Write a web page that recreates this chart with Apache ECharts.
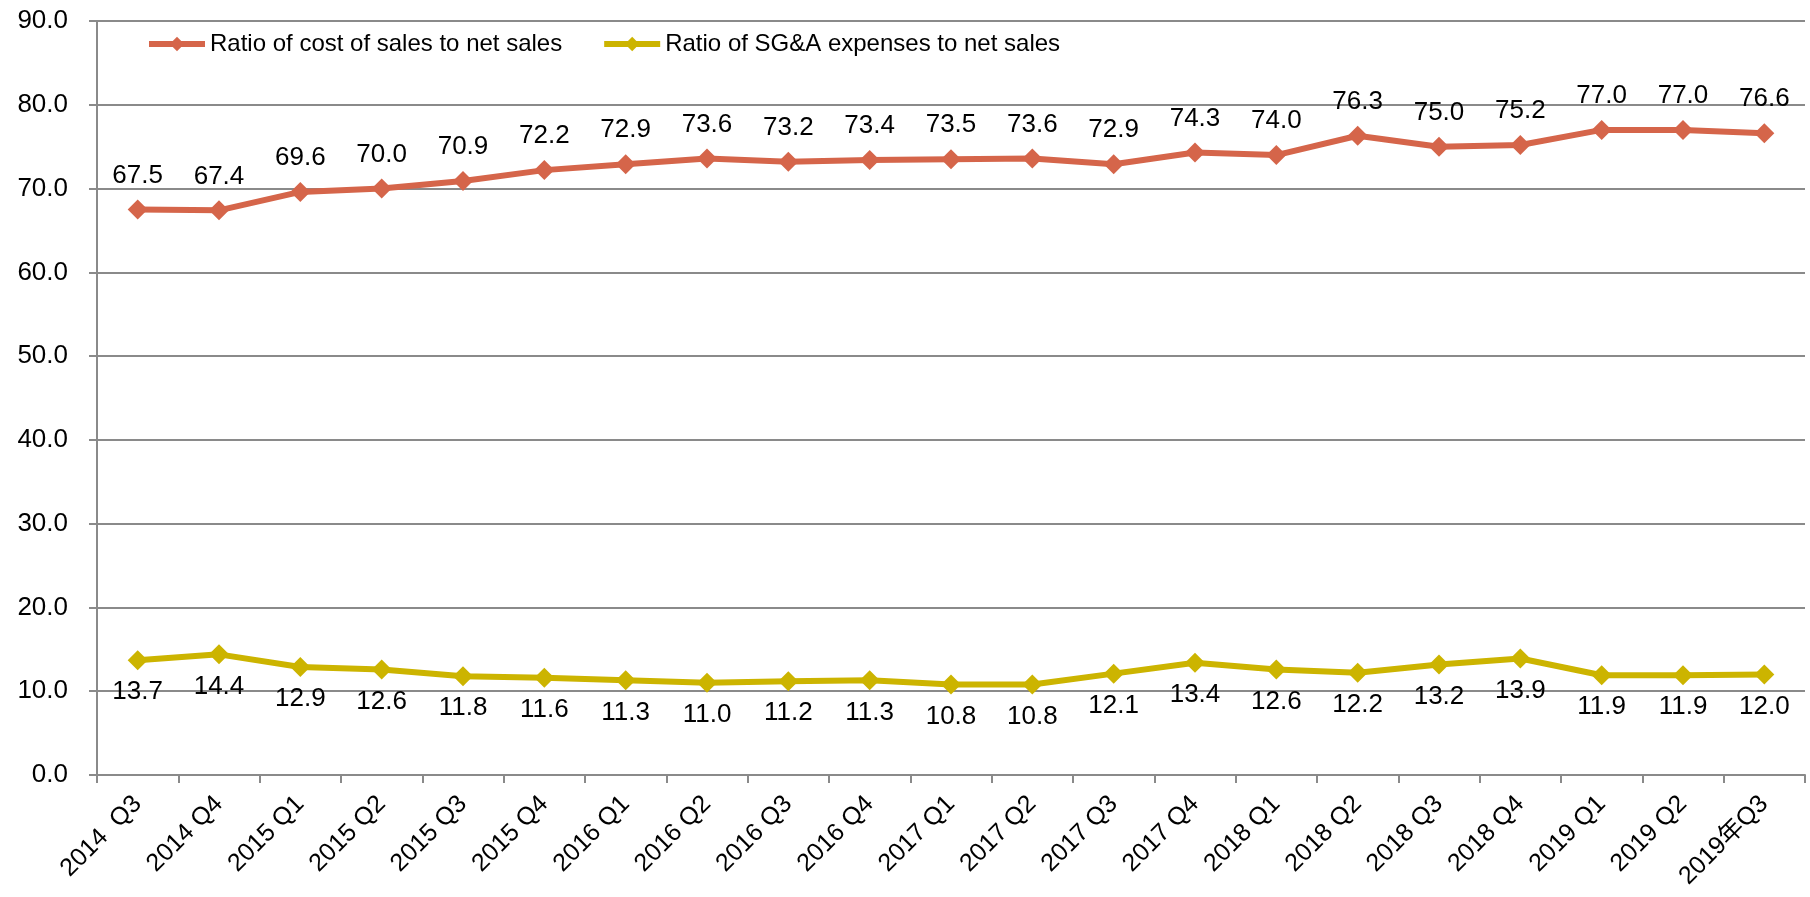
<!DOCTYPE html>
<html>
<head>
<meta charset="utf-8">
<title>Cost ratios</title>
<script src="https://cdn.jsdelivr.net/npm/echarts@6/dist/echarts.min.js"></script>
<style>
  html, body { margin: 0; padding: 0; background: #ffffff; }
  #chart { width: 1810px; height: 897px; }
</style>
</head>
<body>
<div id="chart"></div>
<script>
// Quarter labels along the category axis
const quarters = [
  '2014  Q3', '2014 Q4',
  '2015 Q1', '2015 Q2', '2015 Q3', '2015 Q4',
  '2016 Q1', '2016 Q2', '2016 Q3', '2016 Q4',
  '2017 Q1', '2017 Q2', '2017 Q3', '2017 Q4',
  '2018 Q1', '2018 Q2', '2018 Q3', '2018 Q4',
  '2019 Q1', '2019 Q2', '2019年Q3'
];

// Ratio of cost of sales to net sales (%)
const costOfSalesRatio = [
  67.5, 67.4, 69.6, 70.0, 70.9, 72.2, 72.9, 73.6, 73.2, 73.4,
  73.5, 73.6, 72.9, 74.3, 74.0, 76.3, 75.0, 75.2, 77.0, 77.0, 76.6
];

// Ratio of SG&A expenses to net sales (%)
const sgaRatio = [
  13.7, 14.4, 12.9, 12.6, 11.8, 11.6, 11.3, 11.0, 11.2, 11.3,
  10.8, 10.8, 12.1, 13.4, 12.6, 12.2, 13.2, 13.9, 11.9, 11.9, 12.0
];

const seriesNames = ['Ratio of cost of sales to net sales', 'Ratio of SG&A expenses to net sales'];

// Value axis range
const yMin = 0, yMax = 90, yStep = 10;

const FONT = "'Liberation Sans', Arial, 'Noto Sans CJK JP', sans-serif";
const GRID_GRAY = '#8a8a8a';
const ORANGE = '#d5654a';
const GOLD = '#ccb400';
const NUM_SIZE = 26;

const chart = echarts.init(document.getElementById('chart'), null, { renderer: 'canvas' });

const labelStyle = {
  show: true,
  fontFamily: FONT,
  fontSize: NUM_SIZE,
  color: '#000000',
  formatter: p => Number(p.value).toFixed(1)
};

chart.setOption({
  animation: false,
  backgroundColor: '#ffffff',
  textStyle: { fontFamily: FONT },
  grid: { left: 97, right: 5, top: 21, bottom: 122, containLabel: false },
  legend: {
    left: 141,
    top: 27,
    itemWidth: 56,
    itemHeight: 18,
    itemGap: 39,
    lineStyle: { width: 6 },
    textStyle: { fontFamily: FONT, fontSize: 24, color: '#000000' },
    data: seriesNames
  },
  xAxis: {
    type: 'category',
    data: quarters,
    boundaryGap: true,
    axisLine: { show: true, lineStyle: { color: GRID_GRAY, width: 2 } },
    axisTick: { show: true, length: 8, lineStyle: { color: GRID_GRAY, width: 2 } },
    axisLabel: {
      interval: 0,
      rotate: 45,
      margin: 25,
      align: 'right',
      verticalAlign: 'middle',
      fontFamily: FONT,
      fontSize: 25,
      color: '#000000'
    },
    splitLine: { show: false }
  },
  yAxis: {
    type: 'value',
    min: yMin,
    max: yMax,
    interval: yStep,
    axisLine: { show: true, lineStyle: { color: GRID_GRAY, width: 2 } },
    axisTick: { show: true, length: 8, lineStyle: { color: GRID_GRAY, width: 2 } },
    axisLabel: {
      margin: 29,
      fontFamily: FONT,
      fontSize: NUM_SIZE,
      color: '#000000',
      formatter: v => v.toFixed(1)
    },
    splitLine: { show: true, lineStyle: { color: GRID_GRAY, width: 2 } }
  },
  series: [
    {
      name: seriesNames[0],
      type: 'line',
      data: costOfSalesRatio,
      symbol: 'diamond',
      symbolSize: 20,
      lineStyle: { color: ORANGE, width: 6 },
      itemStyle: { color: ORANGE },
      label: Object.assign({ position: 'top', distance: 11 }, labelStyle)
    },
    {
      name: seriesNames[1],
      type: 'line',
      data: sgaRatio,
      symbol: 'diamond',
      symbolSize: 20,
      lineStyle: { color: GOLD, width: 6 },
      itemStyle: { color: GOLD },
      label: Object.assign({ position: 'bottom', distance: 9 }, labelStyle)
    }
  ]
});
</script>
</body>
</html>
